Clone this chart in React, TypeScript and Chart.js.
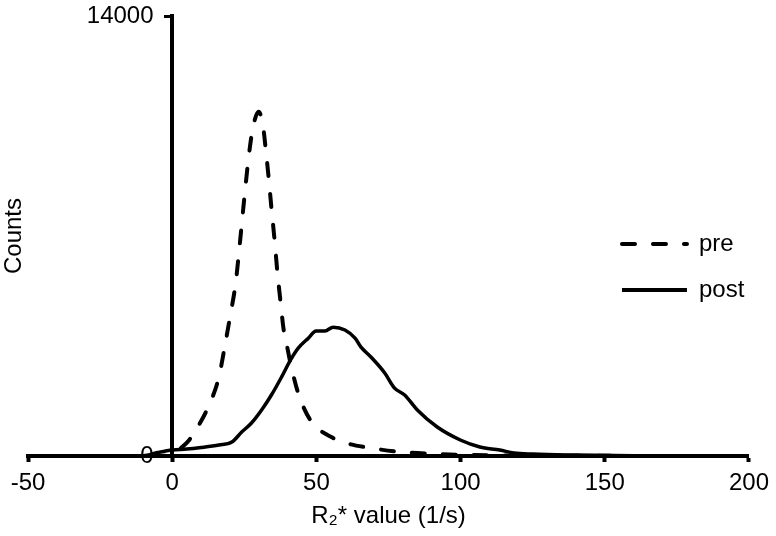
import React, { useEffect, useRef } from "react";
import { Chart, registerables } from "chart.js";

Chart.register(...registerables);

// ---- data ----
const preX = [-50, -5, 0, 3, 6, 9, 12, 16.2, 18, 20, 22, 23.5, 25, 26.5, 28, 30, 31.5, 32.5, 33.5, 34.5, 35.5, 36.5, 37.5, 38.6, 39.6, 41, 43.7, 47.9, 55.8, 62, 67, 79, 90, 100, 120, 150, 200];
const preY = [0, 0, 60, 250, 520, 950, 1460, 2510, 3370, 4400, 5500, 6800, 8200, 9500, 10450, 10950, 10500, 9700, 8800, 7800, 6870, 5820, 4960, 4050, 3600, 2960, 2000, 1145, 573, 370, 280, 130, 70, 40, 15, 5, 0];

const postX = [-50, -10, -5, 0, 5, 10, 16.2, 20.7, 24.1, 27.5, 31, 34.4, 37.9, 41, 43.7, 47.2, 49.9, 53, 55.8, 59.9, 63.4, 65.4, 68.9, 73.7, 77.1, 80.6, 85, 91.9, 99.9, 106.7, 113.6, 118.5, 125, 140, 160, 200];
const postY = [0, 10, 110, 190, 220, 270, 350, 445, 763, 1050, 1464, 1940, 2510, 3050, 3430, 3750, 3980, 3980, 4100, 4010, 3750, 3470, 3150, 2640, 2160, 1940, 1464, 922, 509, 286, 190, 95, 60, 30, 10, 0];

const seriesLabels = ["pre", "post"];
const xMin = -50;
const xMax = 200;
const xStep = 50;
const yMin = 0;
const yMax = 14000;
const xTitle = "R\u2082* value (1/s)";
const yTitle = "Counts";

const FONT = "'Liberation Sans', Arial, Helvetica, sans-serif";
const FS = 24;
const DASH = [13, 18];

const legendPlugin = {
  id: "customLegend",
  afterDraw(chart: any) {
    const ctx = chart.ctx as CanvasRenderingContext2D;
    const { right, top } = chart.chartArea;
    const rows = [
      { label: seriesLabels[0], dash: DASH, y: top + 228 },
      { label: seriesLabels[1], dash: [] as number[], y: top + 274 },
    ];
    ctx.save();
    rows.forEach((r) => {
      ctx.beginPath();
      ctx.setLineDash(r.dash);
      ctx.lineWidth = 4;
      ctx.lineCap = r.dash.length ? "round" : "butt";
      ctx.strokeStyle = "#000";
      ctx.moveTo(right - 127, r.y);
      ctx.lineTo(right - 62, r.y);
      ctx.stroke();
      ctx.setLineDash([]);
      ctx.fillStyle = "#000";
      ctx.font = `${FS}px ${FONT}`;
      ctx.textBaseline = "middle";
      ctx.textAlign = "left";
      ctx.fillText(r.label, right - 50, r.y);
    });
    ctx.restore();
  },
};

export default function App() {
  const ref = useRef<HTMLCanvasElement | null>(null);

  useEffect(() => {
    if (!ref.current) return;
    const chart = new Chart(ref.current, {
      type: "line",
      data: {
        datasets: [
          {
            label: seriesLabels[0],
            data: preX.map((x, i) => ({ x, y: preY[i] })),
            borderColor: "#000",
            borderWidth: 4,
            borderDash: DASH,
            borderCapStyle: "round",
            pointRadius: 0,
            fill: false,
            cubicInterpolationMode: "monotone",
            clip: 6,
          },
          {
            label: seriesLabels[1],
            data: postX.map((x, i) => ({ x, y: postY[i] })),
            borderColor: "#000",
            borderWidth: 3.5,
            pointRadius: 0,
            fill: false,
            cubicInterpolationMode: "monotone",
            clip: 6,
          },
        ],
      },
      options: {
        responsive: false,
        animation: false,
        layout: { padding: { top: 16, right: 22, left: 0, bottom: 0 } },
        plugins: {
          legend: { display: false },
          tooltip: { enabled: false },
        },
        scales: {
          x: {
            type: "linear",
            min: xMin,
            max: xMax,
            grid: {
              display: true,
              drawOnChartArea: false,
              drawTicks: true,
              tickLength: 6,
              tickWidth: 4,
              tickColor: "#000",
            },
            border: { display: true, color: "#000", width: 4 },
            ticks: {
              stepSize: xStep,
              color: "#000",
              font: { family: FONT, size: FS },
              padding: 7,
              maxRotation: 0,
            },
            title: {
              display: true,
              text: xTitle,
              color: "#000",
              font: { family: FONT, size: FS },
              padding: { top: 0, bottom: 5 },
            },
            afterFit: (s: any) => {
              s.height = 80;
            },
          },
          y: {
            type: "linear",
            position: { x: 0 } as any,
            min: yMin,
            max: yMax,
            grid: {
              display: true,
              drawOnChartArea: false,
              drawTicks: true,
              tickLength: 6,
              tickWidth: 3,
              tickColor: "#000",
            },
            border: { display: true, color: "#000", width: 4 },
            ticks: {
              stepSize: yMax - yMin,
              color: "#000",
              font: { family: FONT, size: FS },
              padding: 0,
              callback: (v: any) => String(v) + "\u2002 ",
            },
          },
          yTitle: {
            type: "linear",
            position: "left",
            display: true,
            grid: { display: false },
            border: { display: false },
            ticks: { display: false },
            title: {
              display: true,
              text: yTitle,
              color: "#000",
              font: { family: FONT, size: FS },
              padding: { top: 0, bottom: 0 },
            },
            afterFit: (s: any) => {
              s.width = 28;
            },
          },
        },
      },
      plugins: [legendPlugin],
    } as any);
    return () => chart.destroy();
  }, []);

  return (
    <div style={{ position: "absolute", left: 0, top: 0, width: 776, height: 536, background: "#fff" }}>
      <canvas ref={ref} width={776} height={536} />
    </div>
  );
}
